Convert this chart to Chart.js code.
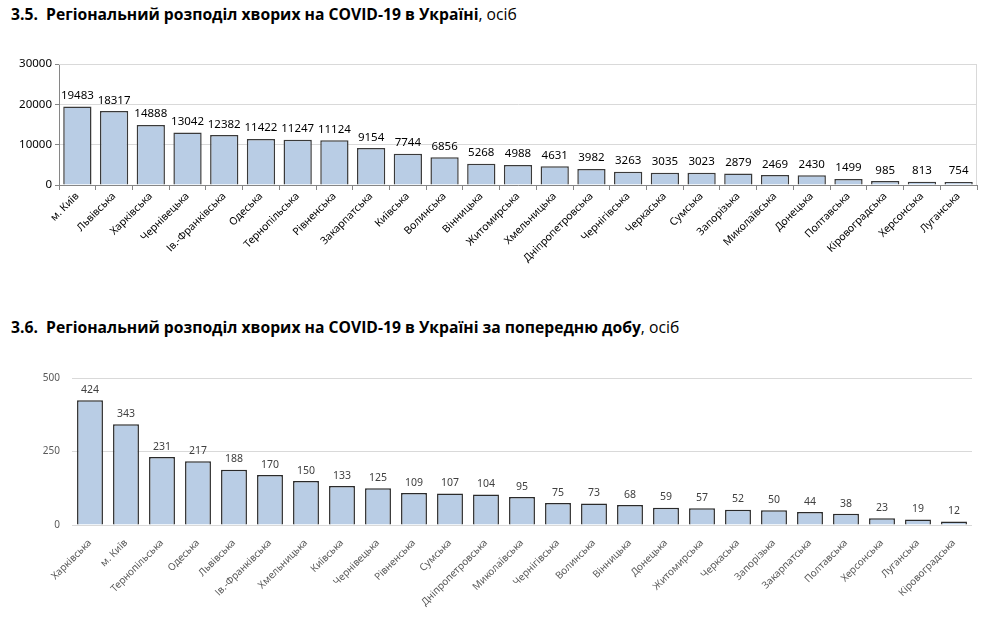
<!DOCTYPE html>
<html><head><meta charset="utf-8">
<script src="https://cdn.jsdelivr.net/npm/chart.js@4.4.0/dist/chart.umd.min.js"></script>
<style>
html,body{margin:0;padding:0;background:#fff;width:995px;height:628px;overflow:hidden;font-family:"Open Sans",sans-serif;}
.t{position:absolute;left:11px;font-size:15.7px;color:#000;white-space:nowrap;}
.t b{font-weight:700;}
.c{position:absolute;left:0;}
</style></head><body>
<div class="t" style="top:3px"><b>3.5.&nbsp; Регіональний розподіл хворих на COVID-19 в Україні</b>, осіб</div>
<div class="t" style="top:316px"><b>3.6.&nbsp; Регіональний розподіл хворих на COVID-19 в Україні за попередню добу</b>, осіб</div>
<div class="c" style="top:50px;width:995px;height:250px"><canvas id="c1"></canvas></div>
<div class="c" style="top:360px;width:995px;height:268px"><canvas id="c2"></canvas></div>
<script>
const cat1 = ['м. Київ','Львівська','Харківська','Чернівецька','Ів.-Франківська','Одеська','Тернопільська','Рівненська','Закарпатська','Київська','Волинська','Вінницька','Житомирська','Хмельницька','Дніпропетровська','Чернігівська','Черкаська','Сумська','Запорізька','Миколаївська','Донецька','Полтавська','Кіровоградська','Херсонська','Луганська'];
const val1 = [19483,18317,14888,13042,12382,11422,11247,11124,9154,7744,6856,5268,4988,4631,3982,3263,3035,3023,2879,2469,2430,1499,985,813,754];
const ticks1 = [0,10000,20000,30000];

const cat2 = ['Харківська','м. Київ','Тернопільська','Одеська','Львівська','Ів.-Франківська','Хмельницька','Київська','Чернівецька','Рівненська','Сумська','Дніпропетровська','Миколаївська','Чернігівська','Волинська','Вінницька','Донецька','Житомирська','Черкаська','Запорізька','Закарпатська','Полтавська','Херсонська','Луганська','Кіровоградська'];
const val2 = [424,343,231,217,188,170,150,133,125,109,107,104,95,75,73,68,59,57,52,50,44,38,23,19,12];
const ticks2 = [0,250,500];

const FONT = '"Noto Sans", "Open Sans", sans-serif';

function labelPlugin(color, size){
  return {
    id:'lbl',
    afterDatasetsDraw(chart){
      const ctx = chart.ctx;
      const meta = chart.getDatasetMeta(0);
      ctx.save();
      ctx.fillStyle = color;
      ctx.font = size + 'px ' + FONT;
      ctx.textAlign = 'center';
      ctx.textBaseline = 'bottom';
      meta.data.forEach((el,i)=>{
        ctx.fillText(String(chart.data.datasets[0].data[i]), el.x, el.y - 5);
      });
      ctx.restore();
    }
  };
}
const frame = {
  id:'frame',
  beforeDatasetsDraw(chart){
    const a = chart.chartArea, ctx = chart.ctx;
    ctx.save();
    ctx.strokeStyle = '#D9D9D9';
    ctx.lineWidth = 1;
    ctx.beginPath();
    ctx.moveTo(a.left, a.top + 0.5);
    ctx.lineTo(a.right - 0.5, a.top + 0.5);
    ctx.lineTo(a.right - 0.5, a.bottom);
    ctx.stroke();
    ctx.restore();
  }
};

new Chart(document.getElementById('c1'), {
  type:'bar',
  data:{labels:cat1, datasets:[{data:val1, backgroundColor:'#B9CDE5', borderColor:'#3A3A3A', borderWidth:1.5, categoryPercentage:1, barPercentage:0.77}]},
  options:{
    responsive:true, maintainAspectRatio:false, animation:false,
    layout:{padding:{top:14,right:18,left:0,bottom:0}},
    plugins:{legend:{display:false}, tooltip:{enabled:false}},
    scales:{
      x:{
        grid:{display:true, drawOnChartArea:false, offset:true, color:'#868686', tickLength:5},
        border:{display:true, color:'#868686'},
        ticks:{color:'#000', font:{family:FONT, size:10.5}, minRotation:45, maxRotation:45, autoSkip:false, padding:0},
        afterFit(s){ s.height = 115; }
      },
      y:{
        min:0, max:30000,
        afterBuildTicks(s){ s.ticks = ticks1.map(v=>({value:v})); },
        grid:{color:'#D9D9D9', tickLength:4, tickColor:'#868686'},
        border:{display:true, color:'#868686'},
        ticks:{color:'#000', font:{family:FONT, size:11.5}, padding:3, callback:(v)=>String(v)},
        afterFit(s){ s.width = 59; }
      }
    }
  },
  plugins:[frame, labelPlugin('#000', 11.5)]
});

new Chart(document.getElementById('c2'), {
  type:'bar',
  data:{labels:cat2, datasets:[{data:val2, backgroundColor:'#B9CDE5', borderColor:'#2A2A2A', borderWidth:1.5, categoryPercentage:1, barPercentage:0.72}]},
  options:{
    responsive:true, maintainAspectRatio:false, animation:false,
    layout:{padding:{top:17,right:23,left:0,bottom:0}},
    plugins:{legend:{display:false}, tooltip:{enabled:false}},
    scales:{
      x:{
        grid:{display:false},
        border:{display:false},
        ticks:{color:'#595959', font:{family:FONT, size:10}, minRotation:45, maxRotation:45, autoSkip:false, padding:4},
        afterFit(s){ s.height = 103; }
      },
      y:{
        min:0, max:500,
        afterBuildTicks(s){ s.ticks = ticks2.map(v=>({value:v})); },
        grid:{color:'#D9D9D9', drawTicks:false},
        border:{display:false},
        ticks:{color:'#595959', font:{family:FONT, size:10}, padding:12, callback:(v)=>String(v)},
        afterFit(s){ s.width = 72; }
      }
    }
  },
  plugins:[labelPlugin('#404040', 10.5)]
});
</script>
</body></html>
